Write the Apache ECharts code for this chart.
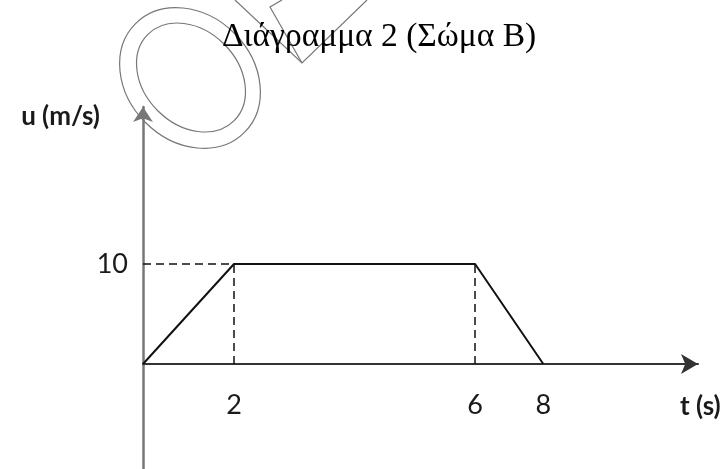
<!DOCTYPE html>
<html>
<head>
<meta charset="utf-8">
<script src="https://cdn.jsdelivr.net/npm/echarts@6/dist/echarts.min.js"></script>
<style>
  html, body { margin: 0; padding: 0; background: #fff; }
  #main { width: 727px; height: 469px; }
</style>
</head>
<body>
<div id="main"></div>
<script>
// the sketch is not drawn to scale: t positions are where the marks sit on the drawing
var tPos = [0, 2, 7.3, 8.8];
var tLabels = ['0', '2', '6', '8'];
var uValues = [0, 10, 10, 0];
var uTicks = [10];

var numFont = 'Lato, "Open Sans", sans-serif';
var chart = echarts.init(document.getElementById('main'));

var points = tPos.map(function (t, i) { return [t, uValues[i]]; });
var dashed = [
  [{ coord: [tPos[0], uValues[1]] }, { coord: [tPos[1], uValues[1]] }],
  [{ coord: [tPos[1], 0] }, { coord: [tPos[1], uValues[1]] }],
  [{ coord: [tPos[2], 0] }, { coord: [tPos[2], uValues[2]] }]
];

var option = {
  animation: false,
  title: {
    text: 'Διάγραμμα 2 (Σώμα Β)',
    left: 217,
    top: 15,
    textStyle: { fontFamily: '"Liberation Serif", "DejaVu Serif", serif', fontSize: 33.5, fontWeight: 'normal', color: '#000' }
  },
  grid: { left: 143, top: 107, width: 555, height: 362, outerBoundsMode: 'none', containLabel: false },
  xAxis: {
    type: 'value',
    min: 0,
    max: 12.2,
    name: 't (s)',
    nameLocation: 'end',
    nameGap: -18,
    nameTextStyle: { fontFamily: numFont, fontSize: 26, fontWeight: 'bold', color: '#1a1a1a', align: 'left', verticalAlign: 'top', padding: [30, 0, 0, 0] },
    axisLine: { onZero: true, symbol: ['none', 'arrow'], symbolSize: [15, 17], lineStyle: { color: '#333', width: 2 } },
    axisTick: { show: false },
    splitLine: { show: false },
    axisLabel: {
      customValues: tPos.slice(1),
      margin: -77,
      fontFamily: numFont,
      fontSize: 27,
      color: '#1a1a1a',
      formatter: function (v) { return tLabels[tPos.indexOf(v)]; }
    }
  },
  yAxis: {
    type: 'value',
    min: -10.5,
    max: 25.7,
    name: 'u (m/s)',
    nameLocation: 'end',
    nameGap: -10,
    nameTextStyle: { fontFamily: numFont, fontSize: 26, fontWeight: 'bold', color: '#1a1a1a', align: 'right', verticalAlign: 'middle', padding: [0, 43, 0, 0] },
    axisLine: { onZero: true, symbol: ['none', 'arrow'], symbolSize: [15, 15], lineStyle: { color: '#777', width: 2.5 } },
    axisTick: { show: false },
    splitLine: { show: false },
    axisLabel: {
      customValues: uTicks,
      margin: 15,
      fontFamily: numFont,
      fontSize: 27,
      color: '#1a1a1a'
    }
  },
  graphic: [
    { type: 'ellipse', x: 190, y: 78, rotation: -Math.PI / 4, shape: { cx: 0, cy: 0, rx: 77, ry: 63 }, style: { fill: 'none', stroke: '#777', lineWidth: 1.2 } },
    { type: 'ellipse', x: 191, y: 77.5, rotation: -Math.PI / 4, shape: { cx: 0, cy: 0, rx: 61, ry: 47 }, style: { fill: 'none', stroke: '#777', lineWidth: 1.2 } },
    { type: 'polyline', shape: { points: [[235, 0], [302, 63], [367, 0]] }, style: { fill: 'none', stroke: '#777', lineWidth: 1.2 } },
    { type: 'polyline', shape: { points: [[282, 0], [270, 7], [302, 63]] }, style: { fill: 'none', stroke: '#777', lineWidth: 1.2 } }
  ],
  series: [{
    type: 'line',
    data: points,
    symbol: 'none',
    lineStyle: { color: '#111', width: 2 },
    markLine: {
      silent: true,
      symbol: 'none',
      label: { show: false },
      lineStyle: { color: '#111', width: 1.5, type: [8, 5] },
      data: dashed
    }
  }]
};
chart.setOption(option);
</script>
</body>
</html>
